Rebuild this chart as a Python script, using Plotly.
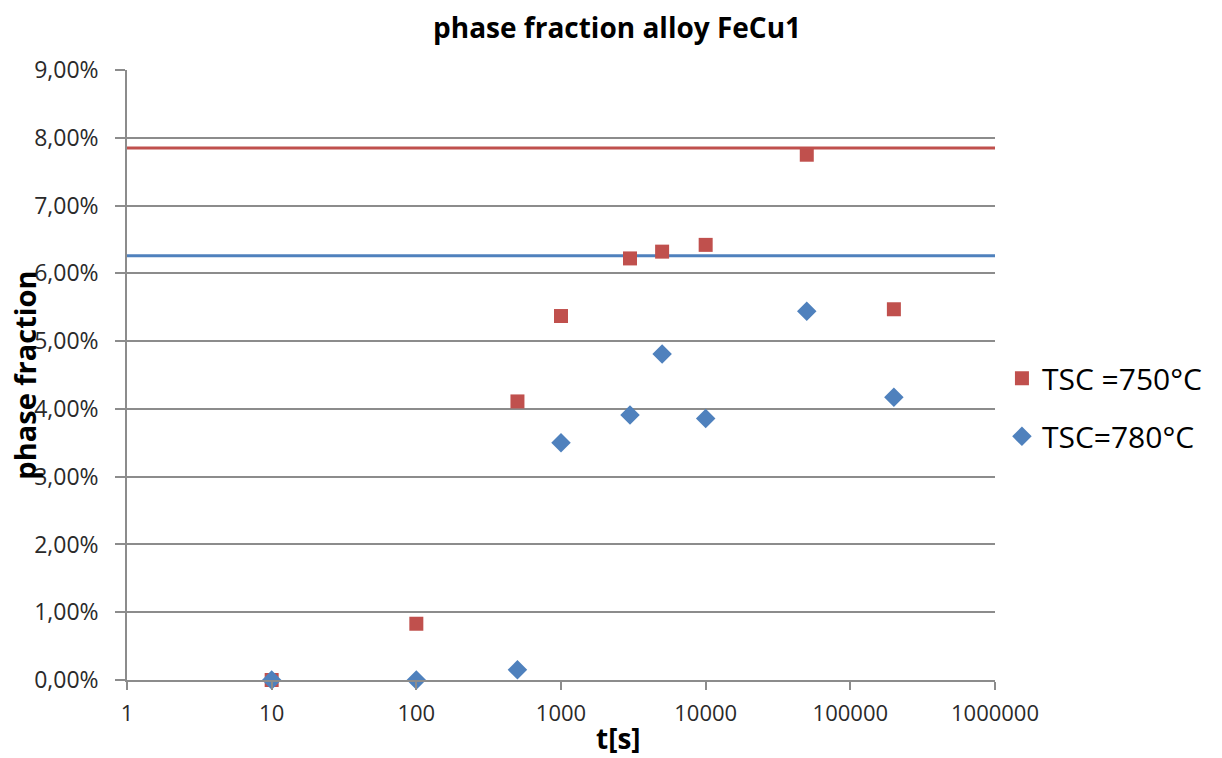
import plotly.graph_objects as go

# Data
t_s = [10, 100, 500, 1000, 3000, 5000, 10000, 50000, 200000]
frac_750 = [0.0, 0.83, 4.11, 5.37, 6.22, 6.32, 6.42, 7.75, 5.47]
frac_780 = [0.0, 0.0, 0.15, 3.50, 3.91, 4.81, 3.86, 5.44, 4.17]
level_750 = 7.85
level_780 = 6.26
x_span = [1, 1000000]
x_tickvals = [1, 10, 100, 1000, 10000, 100000, 1000000]
x_ticktext = ["1", "10", "100", "1000", "10000", "100000", "1000000"]
y_tickvals = [0, 1, 2, 3, 4, 5, 6, 7, 8, 9]
y_ticktext = ["0,00%", "1,00%", "2,00%", "3,00%", "4,00%", "5,00%", "6,00%", "7,00%", "8,00%", "9,00%"]

RED = "#C0504D"
BLUE = "#4F81BD"
GRID = "#8C8C8C"
FONT = "Open Sans"
TXT = "#2a2a2a"

fig = go.Figure()

fig.add_trace(go.Scatter(x=x_span, y=[level_750] * len(x_span), mode="lines",
                         line=dict(color=RED, width=3), showlegend=False, hoverinfo="skip"))
fig.add_trace(go.Scatter(x=x_span, y=[level_780] * len(x_span), mode="lines",
                         line=dict(color=BLUE, width=3), showlegend=False, hoverinfo="skip"))

fig.add_trace(go.Scatter(x=t_s, y=frac_750, mode="markers", name="TSC =750°C",
                         legendgroup="a", cliponaxis=False,
                         marker=dict(symbol="square", size=14, color=RED)))
fig.add_trace(go.Scatter(x=t_s, y=frac_780, mode="markers", name="TSC=780°C",
                         legendgroup="b", cliponaxis=False,
                         marker=dict(symbol="diamond", size=15, color=BLUE)))

fig.update_layout(
    width=1222, height=758,
    margin=dict(l=127, r=227, t=70, b=78),
    paper_bgcolor="white", plot_bgcolor="white",
    font=dict(family=FONT, color=TXT, size=22),
    title=dict(text="<b>phase fraction alloy FeCu1</b>", x=0.505, xanchor="center",
               y=0.963, yanchor="middle", font=dict(family=FONT, size=28, color="black")),
    legend=dict(x=1.008, xanchor="left", y=0.447, yanchor="middle",
                font=dict(family=FONT, size=30, color="black"),
                tracegroupgap=16, bgcolor="rgba(0,0,0,0)"),
    showlegend=True,
)

fig.update_xaxes(type="log", range=[0, 6], tickvals=x_tickvals, ticktext=x_ticktext,
                 showgrid=False, zeroline=False, showline=True, linecolor=GRID, linewidth=1.5,
                 ticks="outside", ticklen=8, tickcolor=GRID, tickwidth=1.5,
                 ticklabelstandoff=5,
                 tickfont=dict(size=22, color=TXT))
fig.update_yaxes(range=[0, 9], tickvals=y_tickvals, ticktext=y_ticktext,
                 showgrid=True, gridcolor=GRID, gridwidth=1.5, zeroline=False,
                 showline=True, linecolor=GRID, linewidth=1.5,
                 ticks="outside", ticklen=10, tickcolor=GRID, tickwidth=1.5,
                 ticklabelstandoff=12,
                 tickfont=dict(size=23, color=TXT))

fig.add_annotation(text="<b>phase fraction</b>", xref="paper", yref="paper",
                   x=-0.119, y=0.5, xanchor="center", yanchor="middle", textangle=-90,
                   showarrow=False, font=dict(family=FONT, size=29, color="black"))
fig.add_annotation(text="<b>t[s]</b>", xref="paper", yref="paper",
                   x=0.566, y=-0.095, xanchor="center", yanchor="middle",
                   showarrow=False, font=dict(family=FONT, size=28, color="black"))

fig.write_html("out.html")
